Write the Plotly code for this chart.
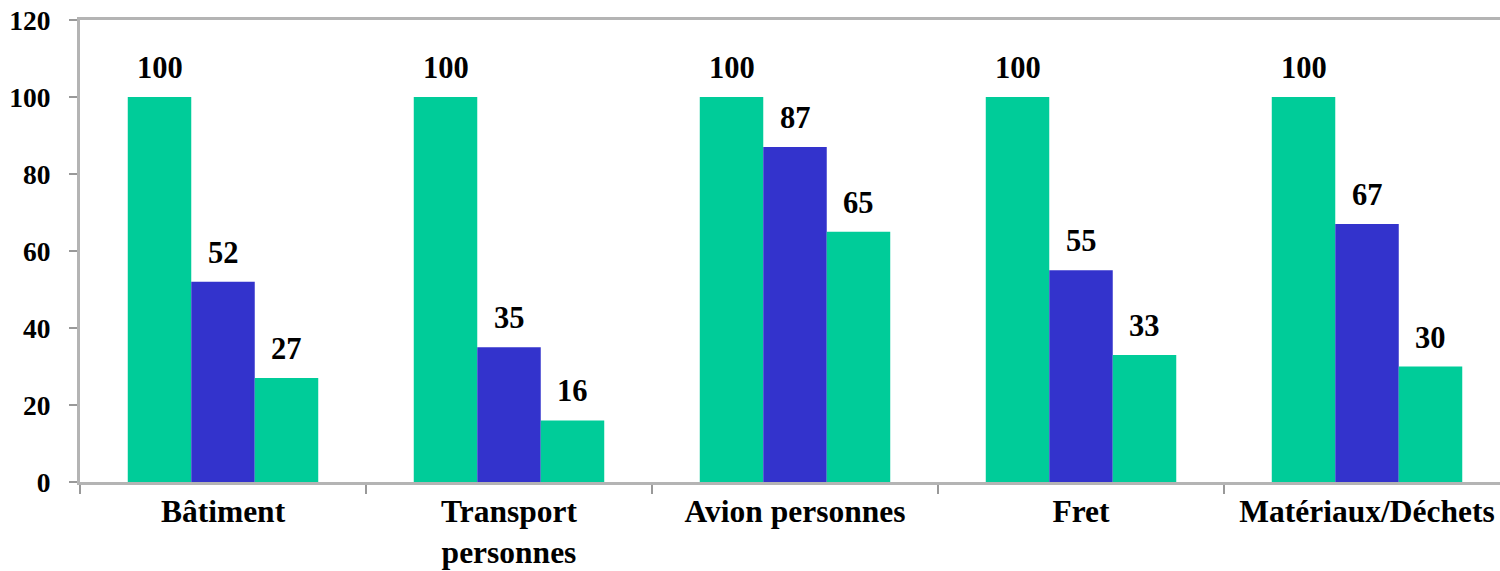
import plotly.graph_objects as go

categories = ["Bâtiment", "Transport<br>personnes", "Avion personnes", "Fret", "Matériaux/Déchets"]
series_a = [100, 100, 100, 100, 100]
series_b = [52, 35, 87, 55, 67]
series_c = [27, 16, 65, 33, 30]
y_ticks = [0, 20, 40, 60, 80, 100, 120]

GREEN = "#00CC99"
BLUE = "#3333CC"
FONT = "Liberation Serif"
BARGAP = 0.334

series = [(series_a, GREEN), (series_b, BLUE), (series_c, GREEN)]

fig = go.Figure()
for vals, col in series:
    fig.add_trace(go.Bar(
        x=categories, y=vals,
        marker=dict(color=col, line=dict(width=0)),
        showlegend=False, hoverinfo="skip",
    ))

# value labels above each bar, offset to the bar's slot in its group
bar_w = (1 - BARGAP) / len(series)
for k, (vals, _) in enumerate(series):
    off = (k - (len(series) - 1) / 2) * bar_w
    for i, v in enumerate(vals):
        fig.add_annotation(
            x=i + off, y=v, text=str(v), showarrow=False,
            yanchor="bottom", yshift=10,
            font=dict(family=FONT, size=30.5, color="#000000", weight="bold"),
        )

fig.update_layout(
    width=1500, height=571,
    margin=dict(l=80, r=0, t=20, b=89, autoexpand=False),
    paper_bgcolor="white", plot_bgcolor="white",
    barmode="group", bargap=BARGAP, bargroupgap=0,
    font=dict(family=FONT, color="#000000"),
)
fig.update_xaxes(
    type="category", range=[-0.5, 4.465], automargin=False,
    showline=True, linecolor="#b4b4b4", linewidth=3, mirror=True,
    ticks="outside", tickson="boundaries", ticklen=9, tickwidth=1.5, tickcolor="#999999",
    tickfont=dict(family=FONT, size=31.5, color="#000000", weight="bold"),
    ticklabelstandoff=-1,
    showgrid=False, zeroline=False, fixedrange=True,
)
fig.update_yaxes(
    range=[0, 120], tickvals=y_ticks, automargin=False,
    showline=True, linecolor="#b4b4b4", linewidth=3,
    ticks="outside", ticklen=8, tickwidth=1.5, tickcolor="#999999",
    tickfont=dict(family=FONT, size=27.5, color="#000000", weight="bold"),
    ticklabelstandoff=13,
    showgrid=False, zeroline=False, fixedrange=True,
)

fig.write_html("out.html")
